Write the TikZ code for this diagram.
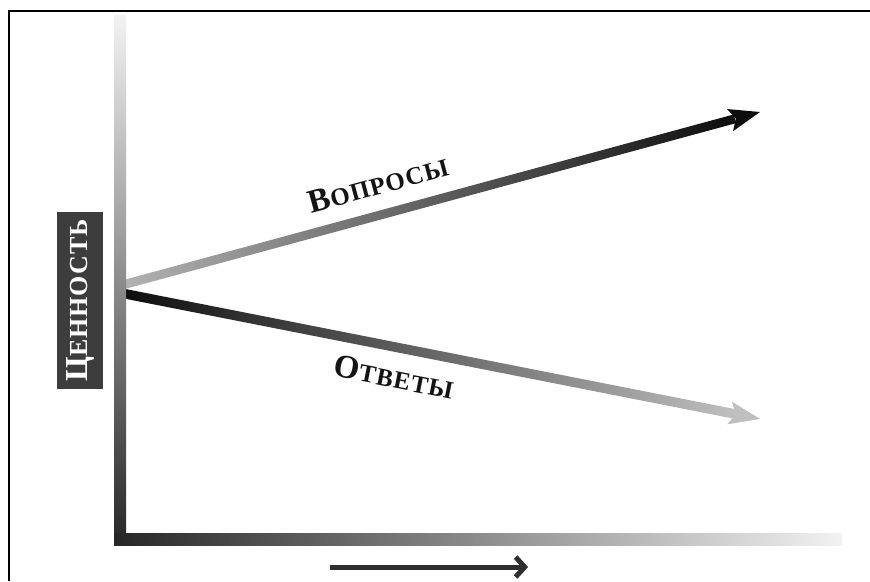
\documentclass[tikz,border=0pt]{standalone}
\usepackage{fontspec}
\setmainfont{Liberation Serif}
\usetikzlibrary{arrows.meta}
\newcommand\bigsz{\fontsize{33}{33}\selectfont}
\newcommand\smsz{\fontsize{25}{25}\selectfont}
\newcommand\lblbig{\fontsize{32}{32}\selectfont}
\newcommand\lblsm{\fontsize{26}{26}\selectfont}
\tikzset{
  lbl/.style={font=\bfseries, inner sep=0pt, text=black!92},
  headfill/.style={fill=#1},
}
\begin{document}
\begin{tikzpicture}[x=1pt,y=-1pt]
\useasboundingbox (0,0) rectangle (870,581);
\fill[white] (0,0) rectangle (870,581);
% frame (only top and left visible)
\draw[line width=2.2pt] (9,581) -- (9,11) -- (870,11);

% named points
\coordinate (qs) at (126,284);
\coordinate (qt) at (760,112);
\coordinate (as) at (126,294);
\coordinate (at) at (760,420);

% upper line (Вопросы)
\begin{scope}[shift={(qs)}, rotate=15.18]
  \shade[left color=black!30, right color=black!95] (-3,-4.5) rectangle (631,4.5);
  \fill[black!95] (656.9,0) -- (625.9,-11.5) -- (631.9,0) -- (625.9,11.5) -- cycle;
\end{scope}

% lower line (Ответы)
\begin{scope}[shift={(as)}, rotate=-11.15]
  \shade[left color=black!95, right color=black!25] (-3,-4.8) rectangle (621,4.8);
  \fill[black!25] (646.3,0) -- (615.3,-11.5) -- (621.3,0) -- (615.3,11.5) -- cycle;
\end{scope}

% axes
\shade[top color=black!5, middle color=black!38, bottom color=black!85] (114,15) rectangle (126,545);
\shade[left color=black!85, middle color=black!45, right color=black!5] (114,533) rectangle (842,545);

% bottom arrow
\coordinate (ba) at (330,567);
\coordinate (bb) at (528,567);
\draw[line width=5pt, black!82, -{Straight Barb[length=9pt,width=20pt]}] (ba) -- (bb);

% value label
\node[fill=black!76, rotate=90, minimum width=177pt, minimum height=46pt, inner sep=0pt,
      text=white, font=\bfseries] (val) at (80,300.5)
  {\addfontfeature{LetterSpace=4}{\lblbig Ц}{\lblsm ЕННОСТЬ}};

% line labels
\node[lbl, rotate=15.18] (vq) at (378,184)
  {\addfontfeature{LetterSpace=4}{\bigsz В}{\smsz ОПРОСЫ}};
\node[lbl, rotate=-11.15] (va) at (394,377)
  {\addfontfeature{LetterSpace=4}{\bigsz О}{\smsz ТВЕТЫ}};
\end{tikzpicture}
\end{document}
